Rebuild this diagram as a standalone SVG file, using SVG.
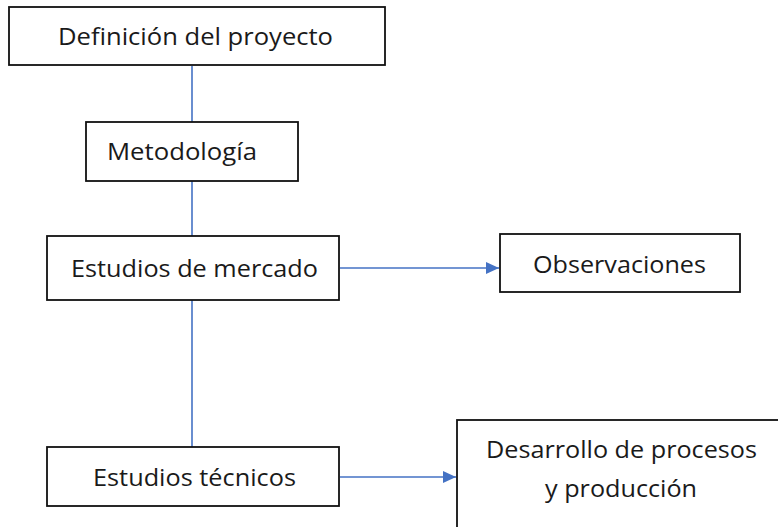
<svg xmlns="http://www.w3.org/2000/svg" width="778" height="527" viewBox="0 0 778 527">
<style>
.box{fill:#fff;stroke:#111;stroke-width:1.8}
.t{font-family:"Open Sans","Liberation Sans",sans-serif;font-size:23px;fill:#1a1a1a}
.c{stroke:#4472C4;stroke-width:1.6;fill:none}
</style>
<defs>
<marker id="ah" markerWidth="14" markerHeight="14" refX="13" refY="7" orient="auto" markerUnits="userSpaceOnUse">
<path d="M0,1 L13,7 L0,13 Z" fill="#4472C4"/>
</marker>
</defs>
<rect width="778" height="527" fill="#fff"/>
<g id="connectors">
<line class="c" x1="192" y1="66" x2="192" y2="122"/>
<line class="c" x1="192" y1="181" x2="192" y2="236"/>
<line class="c" x1="192" y1="300" x2="192" y2="447"/>
<line class="c" x1="340" y1="268" x2="499" y2="268" marker-end="url(#ah)"/>
<line class="c" x1="340" y1="477" x2="456" y2="477" marker-end="url(#ah)"/>
</g>
<g id="definicion">
<rect class="box" x="9" y="7" width="376" height="58"/>
<text class="t" x="58" y="45" textLength="275" lengthAdjust="spacingAndGlyphs">Definición del proyecto</text>
</g>
<g id="metodologia">
<rect class="box" x="86" y="122" width="212" height="59"/>
<text class="t" x="107" y="160" textLength="150" lengthAdjust="spacingAndGlyphs">Metodología</text>
</g>
<g id="mercado">
<rect class="box" x="47" y="236" width="292" height="64"/>
<text class="t" x="71" y="277" textLength="247" lengthAdjust="spacingAndGlyphs">Estudios de mercado</text>
</g>
<g id="observaciones">
<rect class="box" x="500" y="234" width="240" height="58"/>
<text class="t" x="533" y="273" textLength="173" lengthAdjust="spacingAndGlyphs">Observaciones</text>
</g>
<g id="tecnicos">
<rect class="box" x="47" y="447" width="292" height="59"/>
<text class="t" x="93" y="486" textLength="203" lengthAdjust="spacingAndGlyphs">Estudios técnicos</text>
</g>
<g id="desarrollo">
<rect class="box" x="457" y="420" width="330" height="120"/>
<text class="t" x="486" y="458" textLength="271" lengthAdjust="spacingAndGlyphs">Desarrollo de procesos</text>
<text class="t" x="545" y="497" textLength="152" lengthAdjust="spacingAndGlyphs">y producción</text>
</g>
</svg>
